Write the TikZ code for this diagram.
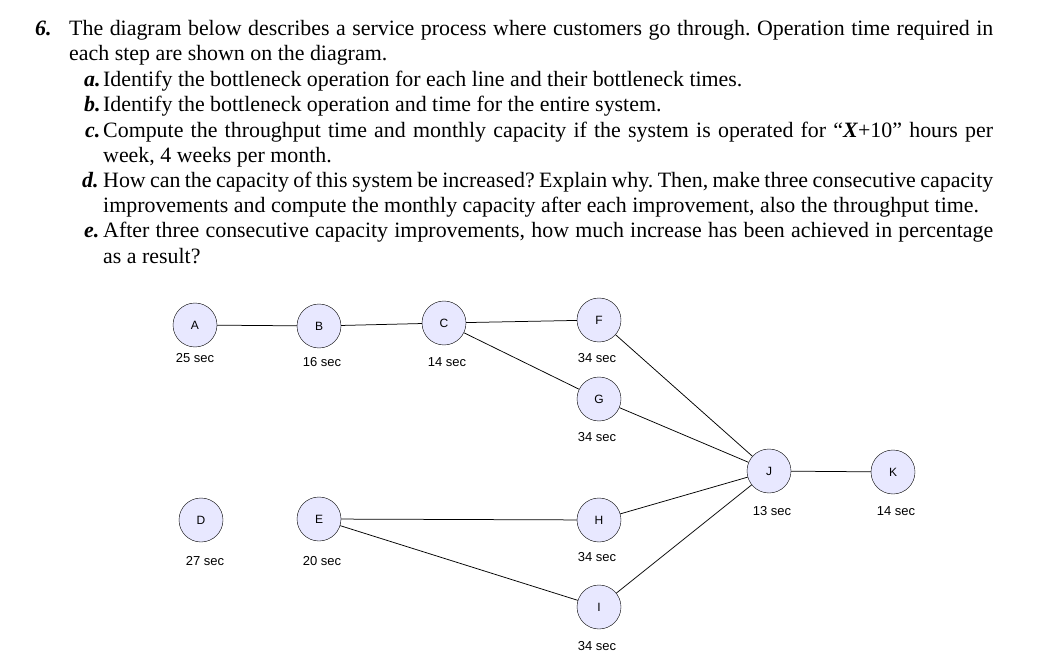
\documentclass[tikz,border=0pt]{standalone}
\usepackage{fontspec}
\setmainfont{Liberation Serif}
\newfontfamily\arialf{Liberation Sans}
\begin{document}
\frenchspacing
\begin{tikzpicture}[x=1pt,y=-1pt,
  stn/.style={circle,draw,fill=blue!9!white,minimum size=44pt,inner sep=0pt,font=\arialf\fontsize{12}{14}\selectfont},
  tm/.style={font=\arialf\fontsize{13}{15}\selectfont},
  ln/.style={anchor=base west,inner sep=0pt,font=\fontsize{21.9}{25}\selectfont\frenchspacing},
  lab/.style={anchor=base west,inner sep=0pt,font=\fontsize{21.9}{25}\selectfont\bfseries\itshape},
  edge/.style={draw,line width=0.75pt}]
\useasboundingbox (0,0) rectangle (1045,671);
\node[lab] (n6) at (35,36) {6.};
\node[ln] (l1) at (69,36) {\makebox[924pt][s]{The diagram below describes a service process where customers go through. Operation time required in}};
\node[ln] (l2) at (69,61) {each step are shown on the diagram.};
\node[lab] (la) at (84,87) {a.};
\node[ln] (l3) at (103,87) {Identify the bottleneck operation for each line and their bottleneck times.};
\node[lab] (lb) at (84,112) {b.};
\node[ln] (l4) at (103,112) {Identify the bottleneck operation and time for the entire system.};
\node[lab] (lc) at (85,138) {c.};
\node[ln] (l5) at (103,138) {\makebox[890pt][s]{Compute the throughput time and monthly capacity if the system is operated for ``\textbf{\textit{X}}+10'' hours per}};
\node[ln] (l6) at (103,163) {week, 4 weeks per month.};
\node[lab] (ld) at (82,188) {d.};
\node[ln] (l7) at (103,188) {\makebox[890pt][s]{How can the capacity of this system be increased? Explain why. Then, make three consecutive capacity}};
\node[ln] (l8) at (103,213) {improvements and compute the monthly capacity after each improvement, also the throughput time.};
\node[lab] (le) at (84,238) {e.};
\node[ln] (l9) at (103,238) {\makebox[890pt][s]{After three consecutive capacity improvements, how much increase has been achieved in percentage}};
\node[ln] (l10) at (103,264) {as a result?};

\node[stn] (A) at (195,325) {A};
\node[stn] (B) at (319,326) {B};
\node[stn] (C) at (444,323) {C};
\node[stn] (F) at (599,320) {F};
\node[stn] (G) at (599,399) {G};
\node[stn] (J) at (769,471) {J};
\node[stn] (K) at (893,472) {K};
\node[stn] (D) at (201,520) {D};
\node[stn] (E) at (319,519) {E};
\node[stn] (H) at (599,520) {H};
\node[stn] (I) at (599,607) {I};
\node[tm] (tA) at (195,358) {25 sec};
\node[tm] (tB) at (322,362) {16 sec};
\node[tm] (tC) at (447,362) {14 sec};
\node[tm] (tF) at (597,358) {34 sec};
\node[tm] (tG) at (597,437) {34 sec};
\node[tm] (tJ) at (772,511) {13 sec};
\node[tm] (tK) at (896,511) {14 sec};
\node[tm] (tD) at (205,561) {27 sec};
\node[tm] (tE) at (322,561) {20 sec};
\node[tm] (tH) at (597,557) {34 sec};
\node[tm] (tI) at (597,646) {34 sec};
\draw[edge] (A)--(B);
\draw[edge] (B)--(C);
\draw[edge] (C)--(F);
\draw[edge] (C)--(G);
\draw[edge] (F)--(J);
\draw[edge] (G)--(J);
\draw[edge] (J)--(K);
\draw[edge] (E)--(H);
\draw[edge] (E)--(I);
\draw[edge] (H)--(J);
\draw[edge] (I)--(J);
\end{tikzpicture}
\end{document}
